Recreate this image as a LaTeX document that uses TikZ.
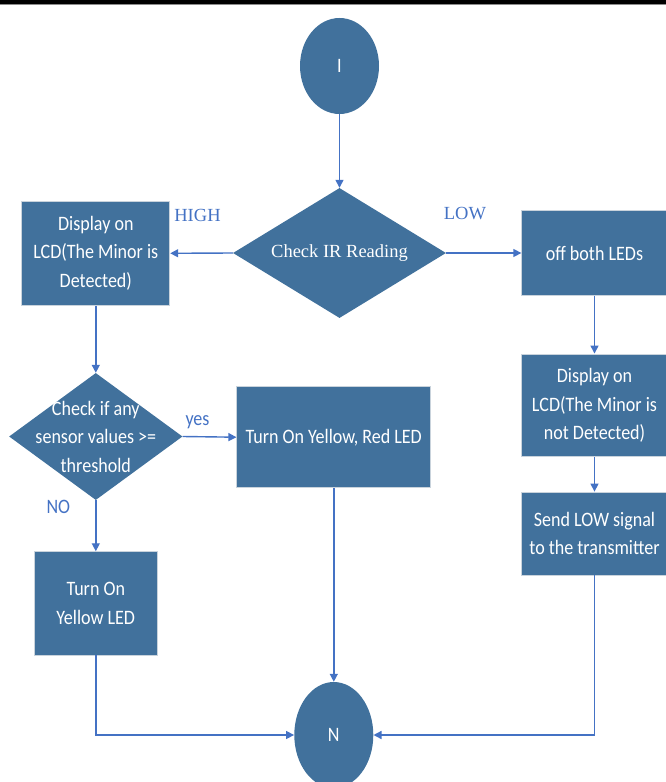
\documentclass[tikz,border=0pt]{standalone}
\usepackage{fontspec}
\usetikzlibrary{shapes.geometric,arrows.meta}
\newfontfamily\boxfont{Carlito}[FakeStretch=0.88]
\newfontfamily\seriffont{Liberation Serif}
\definecolor{stepfill}{HTML}{41719C}
\definecolor{flowline}{HTML}{4472C4}
\definecolor{stepedge}{HTML}{C9D3DC}
\begin{document}
\begin{tikzpicture}[x=1bp,y=-1bp,
  stepbox/.style={rectangle,fill=stepfill,draw=stepedge,line width=0.8bp,
    text=white,align=center,inner sep=0pt,
    font=\boxfont\fontsize{20.5bp}{28.3bp}\selectfont},
  terminal/.style={ellipse,fill=stepfill,inner sep=0pt,text=white,
    font=\boxfont\fontsize{20.5bp}{24bp}\selectfont},
  decision/.style={diamond,fill=stepfill,inner sep=0pt},
  dectext/.style={text=white,align=center,inner sep=0pt},
  branch/.style={text=flowline,inner sep=0pt},
  flow/.style={draw=flowline,line width=1.4bp,-{Triangle[width=8bp,length=8bp]}}]
\useasboundingbox (0,0) rectangle (666,782);
% rule across the top of the page
\fill[black] (0,0) rectangle (666,3.8);
\fill[black!45] (0,4.2) rectangle (666,5.4);

% start and end
\node[terminal,minimum width=79bp,minimum height=96bp] (start) at (339.5,66) {I};
\node[terminal,minimum width=79bp,minimum height=106bp] (stop) at (333.8,735) {N};

% first decision
\node[decision,minimum width=213bp,minimum height=130bp] (ir) at (339.5,253) {};
\node[dectext,font=\seriffont\fontsize{18.5bp}{22bp}\selectfont] (irtext) at (ir.center) {Check IR Reading};

% HIGH branch
\node[stepbox,minimum width=148bp,minimum height=104.5bp] (lcdon) at (95.8,253.3)
  {Display on\\LCD(The Minor is\\Detected)};
\node[decision,minimum width=173.4bp,minimum height=127bp] (sense) at (95.8,436.5) {};
\node[dectext,font=\boxfont\fontsize{20.5bp}{28.5bp}\selectfont] (sensetext) at (sense.center)
  {Check if any\\sensor values >=\\threshold};
\node[stepbox,minimum width=194bp,minimum height=101bp] (both) at (333.8,437.2)
  {Turn On Yellow, Red LED};
\node[stepbox,minimum width=123.3bp,minimum height=103.3bp] (yellow) at (95.8,603.3)
  {Turn On\\Yellow LED};

% LOW branch
\node[stepbox,minimum width=145.5bp,minimum height=84.3bp] (off) at (594.5,253)
  {off both LEDs};
\node[stepbox,minimum width=145.5bp,minimum height=102.7bp] (lcdoff) at (594.5,405.3)
  {Display on\\LCD(The Minor is\\not Detected)};
\node[stepbox,minimum width=145.5bp,minimum height=83bp] (send) at (594.5,533.5)
  {Send LOW signal\\to the transmitter};

% branch labels
\node[branch,font=\seriffont\fontsize{18.5bp}{22bp}\selectfont] (high) at (197.5,215) {HIGH};
\node[branch,font=\seriffont\fontsize{18.5bp}{22bp}\selectfont] (low) at (465,214) {LOW};
\node[branch,font=\boxfont\fontsize{20.5bp}{24bp}\selectfont] (yes) at (197.5,422.5) {yes};
\node[branch,font=\boxfont\fontsize{20.5bp}{24bp}\selectfont] (no) at (58.3,506.5) {NO};

% connectors
\draw[flow] (start.south) -- (ir.north);
\draw[flow] (ir.west) -- (lcdon.east);
\draw[flow] (ir.east) -- (off.west);
\draw[flow] (lcdon.south) -- (sense.north);
\draw[flow] (sense.east) -- (both.west);
\draw[flow] (sense.south) -- (yellow.north);
\draw[flow] (off.south) -- (lcdoff.north);
\draw[flow] (lcdoff.south) -- (send.north);
\draw[flow] (both.south) -- (stop.north);
\draw[flow] (yellow.south) |- (stop.west);
\draw[flow] (send.south) |- (stop.east);
\end{tikzpicture}
\end{document}
